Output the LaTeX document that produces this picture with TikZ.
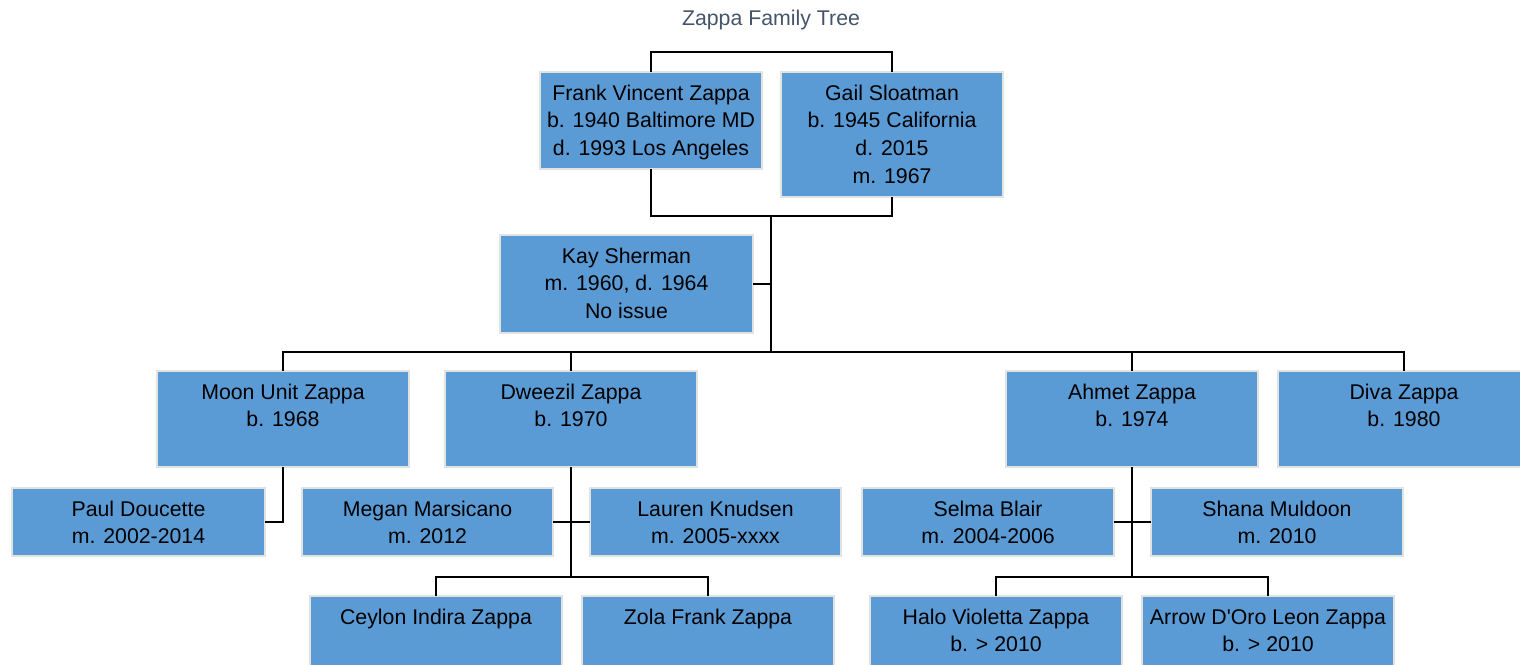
\documentclass[tikz,border=0pt]{standalone}
\usepackage{fontspec}
\setmainfont{Liberation Sans}
\definecolor{boxfill}{HTML}{5B9BD5}
\definecolor{boxline}{HTML}{E2E2E2}
\definecolor{titlecol}{HTML}{44546A}
\tikzset{
  pbox/.style={draw=boxline, line width=1.5pt, fill=boxfill, rectangle, inner sep=0pt, outer sep=0pt},
  ptext/.style={anchor=north, align=center, inner sep=0pt, text=black, font=\fontsize{21.3}{27.6}\selectfont},
  conn/.style={draw=black, line width=1.6pt},
  titletext/.style={anchor=base, inner sep=0pt, text=titlecol, font=\fontsize{21.3}{27.6}\selectfont}
}
\newcommand\famnode[6]{%
  \node[pbox, minimum width={(#4-#2)*1pt}, minimum height={(#5-#3)*1pt}] (#1) at ({(#2+#4)/2},{(#3+#5)/2}) {};
  \node[ptext] (#1-t) at ([yshift=-8pt]#1.north) {\rule{0pt}{20pt}#6};
}
\begin{document}
\begin{tikzpicture}[x=1pt,y=-1pt]
\useasboundingbox (0,0) rectangle (1520,664);
\node[titletext] (title) at (771,25) {Zappa Family Tree};

\famnode{frank}{540}{72}{762}{169}{Frank Vincent Zappa\\b. 1940 Baltimore MD\\d. 1993 Los Angeles}
\famnode{gail}{781}{72}{1003}{197}{Gail Sloatman\\b. 1945 California\\d. 2015\\m. 1967}
\famnode{kay}{500}{235}{753}{333}{Kay Sherman\\m. 1960, d. 1964\\No issue}
\famnode{moon}{157}{371}{409}{467}{Moon Unit Zappa\\b. 1968}
\famnode{dweezil}{445}{371}{697}{467}{Dweezil Zappa\\b. 1970}
\famnode{ahmet}{1006}{371}{1258}{467}{Ahmet Zappa\\b. 1974}
\famnode{diva}{1278}{371}{1530}{467}{Diva Zappa\\b. 1980}
\famnode{paul}{12}{488}{265}{556}{Paul Doucette\\m. 2002-2014}
\famnode{megan}{302}{488}{553}{556}{Megan Marsicano\\m. 2012}
\famnode{lauren}{590}{488}{841}{556}{Lauren Knudsen\\m. 2005-xxxx}
\famnode{selma}{862}{488}{1114}{556}{Selma Blair\\m. 2004-2006}
\famnode{shana}{1151}{488}{1403}{556}{Shana Muldoon\\m. 2010}
\famnode{ceylon}{310}{596}{562}{693}{Ceylon Indira Zappa}
\famnode{zola}{582}{596}{834}{693}{Zola Frank Zappa}
\famnode{halo}{870}{596}{1122}{693}{Halo Violetta Zappa\\b. > 2010}
\famnode{arrow}{1142}{596}{1394}{693}{Arrow D\textquotesingle Oro Leon Zappa\\b. > 2010}

\coordinate (fg) at (771,216);
\coordinate (bus) at (771,352);
\coordinate (dzbus) at (571,577);
\coordinate (ahbus) at (1132,577);

% parents
\draw[conn] (frank.north) -- ++(0,-20) -| (gail.north);
\draw[conn] (frank.south) |- (fg) -| (gail.south);
\draw[conn] (fg) -- (bus);
\draw[conn] (kay.east) -- (kay.east -| fg);
% children bus
\draw[conn] (moon.north) -- (moon.north |- bus) -- (diva.north |- bus) -- (diva.north);
\draw[conn] (dweezil.north) -- (dweezil.north |- bus);
\draw[conn] (ahmet.north) -- (ahmet.north |- bus);
% Moon Unit
\draw[conn] (moon.south) |- (paul.east);
% Dweezil
\draw[conn] (dweezil.south) -- (dzbus);
\draw[conn] (megan.east) -- (lauren.west);
\draw[conn] (ceylon.north) |- (dzbus) -| (zola.north);
% Ahmet
\draw[conn] (ahmet.south) -- (ahbus);
\draw[conn] (selma.east) -- (shana.west);
\draw[conn] (halo.north) |- (ahbus) -| (arrow.north);
\end{tikzpicture}
\end{document}
